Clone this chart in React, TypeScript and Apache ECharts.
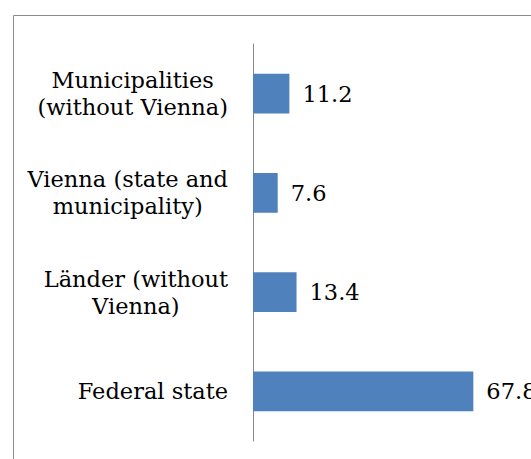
import React, { useEffect, useRef } from "react";
import * as echarts from "echarts";

const categories = [
  "Municipalities\n(without Vienna)",
  "Vienna (state and\nmunicipality)",
  "Länder (without\nVienna)",
  "Federal state",
];
const values = [11.2, 7.6, 13.4, 67.8];
const xMax = 80;

const FONT = "DejaVu Serif";
const FS = 22.5;

export default function App() {
  const ref = useRef<HTMLDivElement>(null);
  useEffect(() => {
    if (!ref.current) return;
    const chart = echarts.init(ref.current, undefined, { renderer: "svg" });
    chart.setOption({
      animation: false,
      backgroundColor: "#ffffff",
      graphic: [
        {
          type: "rect",
          shape: { x: 13.5, y: 15.5, width: 700, height: 700 },
          style: { fill: "none", stroke: "#8c8c8c", lineWidth: 1 },
          silent: true,
        },
      ],
      grid: { left: 253, right: 18, top: 44, bottom: 18, containLabel: false },
      xAxis: {
        type: "value",
        min: 0,
        max: xMax,
        show: false,
      },
      yAxis: {
        type: "category",
        data: categories,
        inverse: true,
        axisLine: { show: true, lineStyle: { color: "#888888", width: 1 } },
        axisTick: { show: false },
        axisLabel: {
          margin: 25,
          align: "right",
          color: "#000",
          fontFamily: FONT,
          fontSize: FS,
          lineHeight: 27,
          formatter: (v: string) =>
            v
              .split("\n")
              .map((l) => `{c|${l}}`)
              .join("\n"),
          rich: {
            c: {
              align: "center",
              fontFamily: FONT,
              fontSize: FS,
              lineHeight: 27,
              color: "#000",
            },
          },
        },
        splitLine: { show: false },
      },
      series: [
        {
          type: "bar",
          data: values,
          barCategoryGap: "60%",
          itemStyle: { color: "#4F81BD" },
          label: {
            show: true,
            position: "right",
            distance: 13,
            color: "#000",
            fontFamily: FONT,
            fontSize: FS,
            formatter: (p: any) => p.value.toFixed(1),
          },
        },
      ],
    });
    return () => chart.dispose();
  }, []);
  return (
    <div
      ref={ref}
      style={{ position: "fixed", left: 0, top: 0, width: 531, height: 459 }}
    />
  );
}
